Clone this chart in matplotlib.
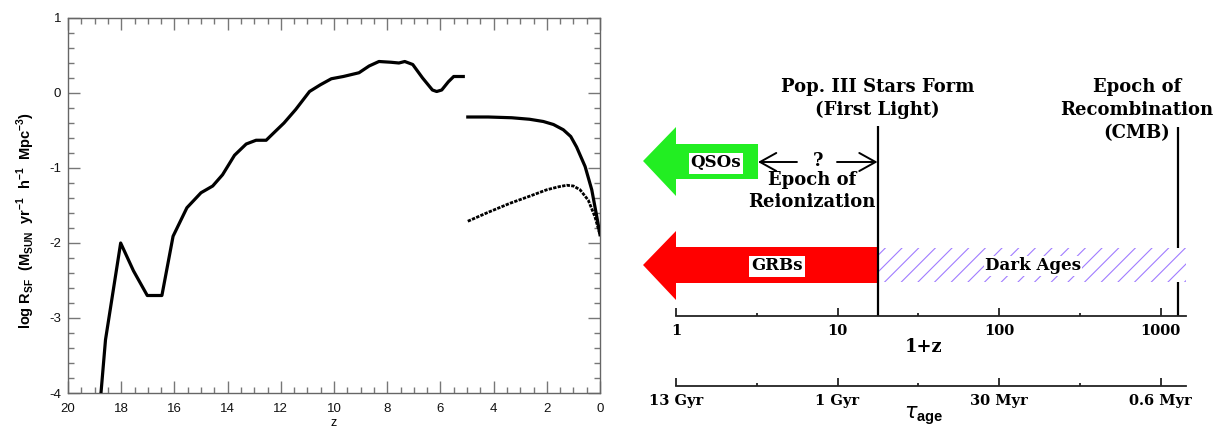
import matplotlib
matplotlib.use("Agg")
import matplotlib.pyplot as plt
from matplotlib.ticker import MultipleLocator, FixedLocator, FixedFormatter, NullFormatter
from matplotlib.patches import Polygon

plt.rcParams["axes.unicode_minus"] = False
plt.rcParams["hatch.linewidth"] = 0.8
plt.rcParams["mathtext.fontset"] = "custom"
plt.rcParams["mathtext.bf"] = "Liberation Sans:bold"

# ---- cosmic star formation rate, log R_SF versus redshift ----
z_early = [18.76, 18.59, 18.02, 17.54, 17.02, 16.47, 16.05, 15.53, 15.00, 14.56,
           14.19, 13.74, 13.30, 12.93, 12.55, 12.26, 11.88, 11.44, 10.92, 10.51,
           10.10, 9.65, 9.06, 8.68, 8.31, 7.86, 7.56, 7.34, 7.04, 6.67,
           6.30, 6.14, 5.95, 5.70, 5.50, 5.14]
logsfr_early = [-4.00, -3.29, -2.00, -2.37, -2.70, -2.70, -1.91, -1.53, -1.33, -1.24,
                -1.09, -0.83, -0.68, -0.63, -0.63, -0.53, -0.40, -0.22, 0.02, 0.11,
                0.19, 0.22, 0.27, 0.36, 0.42, 0.41, 0.40, 0.42, 0.38, 0.20,
                0.04, 0.02, 0.04, 0.15, 0.22, 0.22]

z_late = [4.97, 4.20, 3.32, 2.65, 2.13, 1.75, 1.38, 1.10, 0.88, 0.56, 0.31, 0.12, 0.00]
logsfr_late = [-0.32, -0.32, -0.33, -0.35, -0.38, -0.42, -0.49, -0.58, -0.72, -0.98,
               -1.29, -1.65, -1.89]

z_late_alt = [4.97, 4.20, 3.38, 2.60, 2.00, 1.55, 1.25, 1.00, 0.75, 0.44, 0.19, 0.00]
logsfr_late_alt = [-1.71, -1.59, -1.47, -1.37, -1.29, -1.25, -1.23, -1.24, -1.29,
                   -1.43, -1.65, -1.89]

# ---- cosmic timeline on a 1+z scale ----
scale_ticks = [1, 10, 100, 1000]
scale_minor = [10 ** 0.5, 10 ** 1.5, 10 ** 2.5]
redshift_labels = ["1", "10", "100", "1000"]
age_labels = ["13 Gyr", "1 Gyr", "30 Myr", "0.6 Myr"]
first_light = 17.7        # 1+z when Pop. III stars form
recombination = 1283      # 1+z at the CMB
timeline_end = 1438
qso_reach = 3.22
arrow_tip = 0.625
question_mark = 7.57
reion_left = 5.61
reion_right = 9.93
reion_center = 6.95
recomb_center = 715
qso_label = 1.77
grb_label = 4.22
dark_label = 162
axis_title = 34

W, H = 1223, 429
fig = plt.figure(figsize=(W / 100, H / 100), dpi=100)

# ================= left: star formation history =================
sans = "Liberation Sans"
ax = fig.add_axes([68 / W, 1 - 393 / H, 532 / W, 375 / H])
ax.plot(z_early, logsfr_early, color="black", lw=2.3, solid_joinstyle="round", zorder=3)
ax.plot(z_late, logsfr_late, color="black", lw=2.3, solid_joinstyle="round", zorder=3)
ax.plot(z_late_alt, logsfr_late_alt, color="black", lw=2.0,
        linestyle=(0, (1.2, 0.45)), zorder=3)
ax.set_xlim(20, 0)
ax.set_ylim(-4, 1)
ax.xaxis.set_major_locator(MultipleLocator(2))
ax.xaxis.set_minor_locator(MultipleLocator(0.5))
ax.yaxis.set_major_locator(MultipleLocator(1))
ax.yaxis.set_minor_locator(MultipleLocator(0.2))
ax.tick_params(which="both", direction="in", top=True, right=True,
               color="#777777", width=1.0, labelsize=9.5, labelcolor="#111111")
ax.tick_params(which="major", length=8.5)
ax.tick_params(which="minor", length=4.5)
ax.tick_params(axis="x", pad=7)
ax.tick_params(axis="y", pad=5)
for lab in ax.get_xticklabels() + ax.get_yticklabels():
    lab.set_fontfamily(sans)
for s in ax.spines.values():
    s.set_color("#666666")
    s.set_linewidth(1.0)
ax.set_xlabel("z", fontsize=9, family=sans, labelpad=2)
ax.set_ylabel(r"log R$_{\mathbf{SF}}$  (M$_{\mathbf{SUN}}$  yr$^{\mathbf{-1}}$  h$^{\mathbf{-1}}$  Mpc$^{\mathbf{-3}}$)",
              fontsize=10.5, fontweight="bold", family=sans, va="center", ha="center",
              rotation_mode="anchor")
ax.yaxis.set_label_coords(-0.079, 0.46)

# ================= right: timeline diagram =================
serif = "DejaVu Serif"
axd = fig.add_axes([630 / W, 0, 593 / W, 1])
axd.set_xscale("log")
axd.set_xlim(10 ** ((630 - 676) / 161.5), 10 ** ((1223 - 676) / 161.5))
axd.set_ylim(H, 0)
axd.axis("off")

txt = dict(family=serif, fontweight="bold", color="black", ha="center", va="center")

# epoch markers
axd.vlines(first_light, 126, 316, color="black", lw=1.6, zorder=5)
axd.vlines(recombination, 127, 316, color="black", lw=1.6, zorder=2)

# QSO arrow
qso = Polygon([(arrow_tip, 161), (1, 127), (1, 144), (qso_reach, 144),
               (qso_reach, 179), (1, 179), (1, 196)],
              closed=True, facecolor="#22ee22", edgecolor="none", zorder=3)
axd.add_patch(qso)
axd.text(qso_label, 163, "QSOs", fontsize=12, zorder=6,
         bbox=dict(facecolor="white", edgecolor="none", pad=1.5), **txt)

# GRB arrow
grb = Polygon([(arrow_tip, 265), (1, 231), (1, 247), (first_light, 247),
               (first_light, 283), (1, 283), (1, 300)],
              closed=True, facecolor="#ff0000", edgecolor="none", zorder=3)
axd.add_patch(grb)
axd.text(grb_label, 266, "GRBs", fontsize=12, zorder=6,
         bbox=dict(facecolor="white", edgecolor="none", pad=1.5), **txt)

# dark ages band
axd.fill_between([first_light, timeline_end], 248, 282, facecolor="white",
                 edgecolor="#a07cff", hatch="//", linewidth=0, zorder=3)
axd.text(dark_label, 266, "Dark Ages", fontsize=12, zorder=6,
         bbox=dict(facecolor="white", edgecolor="none", pad=1.0), **txt)

# reionization epoch
arrow_style = dict(arrowstyle="->,head_length=0.45,head_width=0.25", lw=1.4,
                   color="black", shrinkA=0, shrinkB=0, mutation_scale=26)
axd.annotate("", xy=(qso_reach, 162), xytext=(reion_left, 162), arrowprops=arrow_style)
axd.annotate("", xy=(first_light, 162), xytext=(reion_right, 162), arrowprops=arrow_style)
axd.text(question_mark, 161, "?", fontsize=13, **txt)
axd.text(reion_center, 180, "Epoch of", fontsize=13, **txt)
axd.text(reion_center, 202, "Reionization", fontsize=13, **txt)

# epoch titles
axd.text(first_light, 87, "Pop. III Stars Form", fontsize=13, **txt)
axd.text(first_light, 110, "(First Light)", fontsize=13, **txt)
axd.text(recomb_center, 87, "Epoch of", fontsize=13, **txt)
axd.text(recomb_center, 110, "Recombination", fontsize=13, **txt)
axd.text(recomb_center, 133, "(CMB)", fontsize=13, **txt)

# axis titles
axd.text(axis_title, 347, "1+z", fontsize=13, **txt)
axd.text(axis_title, 416, r"$\tau_{\mathbf{age}}$", fontsize=15, **txt)


def timeline_axis(y_px, labels):
    a = fig.add_axes([676 / W, 1 - y_px / H, 510 / W, 1e-4])
    a.set_xscale("log")
    a.set_xlim(1, timeline_end)
    a.patch.set_visible(False)
    for side in ("top", "left", "right"):
        a.spines[side].set_visible(False)
    a.spines["bottom"].set_linewidth(1.3)
    a.spines["bottom"].set_color("#222222")
    a.yaxis.set_visible(False)
    a.xaxis.set_major_locator(FixedLocator(scale_ticks))
    a.xaxis.set_major_formatter(FixedFormatter(labels))
    a.xaxis.set_minor_locator(FixedLocator(scale_minor))
    a.xaxis.set_minor_formatter(NullFormatter())
    a.tick_params(which="both", direction="in", width=1.3, color="#222222")
    a.tick_params(which="major", length=5.5, pad=6, labelsize=10.5)
    a.tick_params(which="minor", length=2.5)
    for lab in a.get_xticklabels():
        lab.set_fontfamily(serif)
        lab.set_fontweight("bold")
    return a


timeline_axis(316, redshift_labels)
timeline_axis(386, age_labels)

fig.savefig("out.png", dpi=100)
